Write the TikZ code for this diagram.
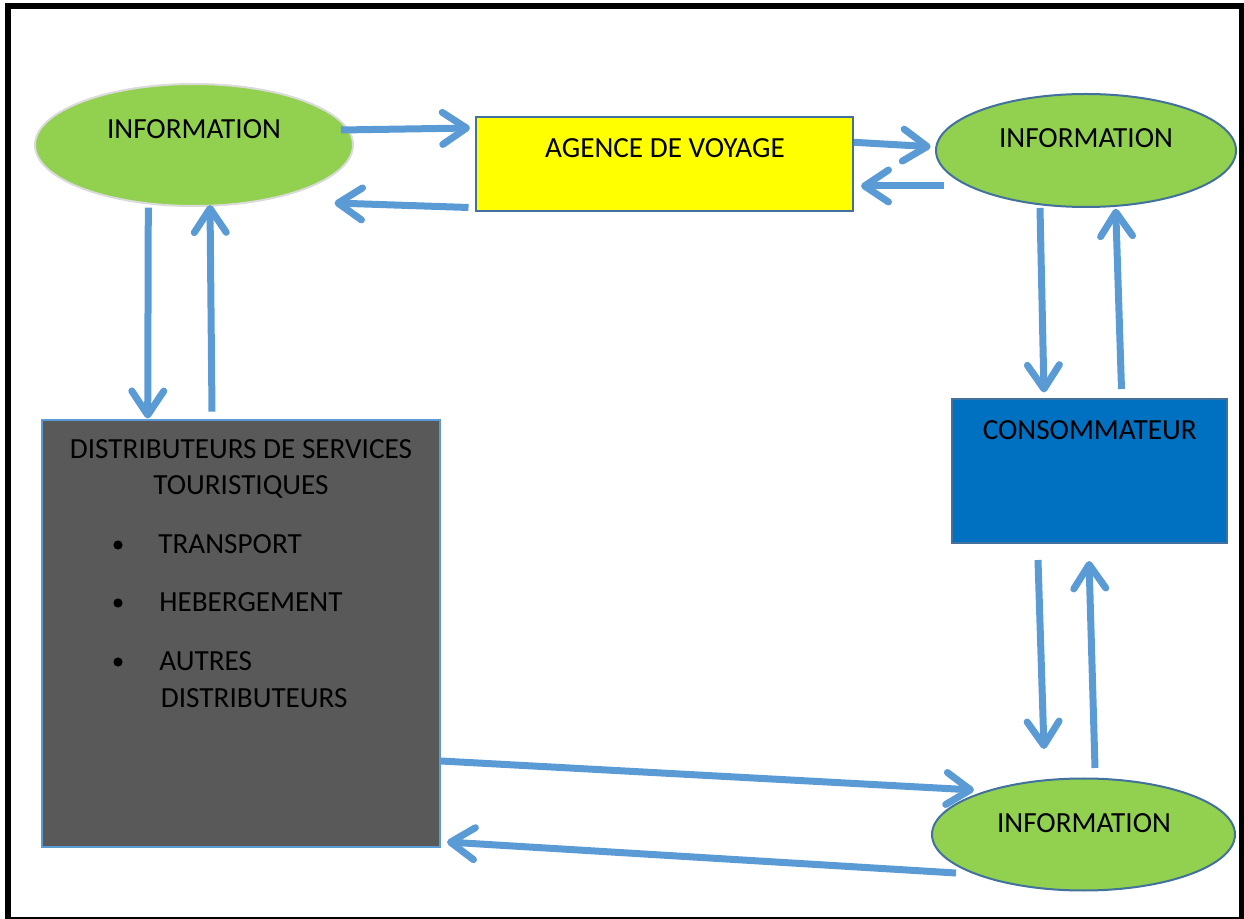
\documentclass[tikz,border=0pt]{standalone}
\usepackage{fontspec}
\setmainfont{Carlito}
\usetikzlibrary{shapes.geometric,arrows.meta,calc}

\definecolor{infogreen}{HTML}{92D050}
\definecolor{edgeblue}{HTML}{41719C}
\definecolor{flowblue}{HTML}{5B9BD5}
\definecolor{agenceyellow}{HTML}{FFFF00}
\definecolor{consoblue}{HTML}{0070C0}
\definecolor{distribgray}{HTML}{595959}
\definecolor{palegray}{HTML}{DADADA}

\begin{document}
\begin{tikzpicture}[x=0.5pt,y=-0.5pt,
  info/.style={ellipse,fill=infogreen,draw=edgeblue,line width=1pt,inner sep=0pt},
  panel/.style={rectangle,draw=edgeblue,line width=1pt,inner sep=0pt},
  lbl/.style={font=\fontsize{14.6}{17.5}\selectfont,inner sep=0pt,anchor=base},
  flow/.style={draw=flowblue,line width=3.5pt,-{Straight Barb[length=12pt,width=16pt,round]}}]
\useasboundingbox (0,0) rectangle (1244,919);
\clip (0,0) rectangle (1244,919);
\draw[line width=3pt] (8,6) rectangle (1242,920);
% shapes
\node[info,draw=palegray,minimum width=159pt,minimum height=61pt] (infoA) at (194,145) {};
\node[info,minimum width=150pt,minimum height=56.5pt] (infoB) at (1086,150.5) {};
\node[info,minimum width=151.5pt,minimum height=56pt] (infoC) at (1083.5,834.5) {};
\node[panel,fill=agenceyellow,minimum width=188.5pt,minimum height=47pt] (agence) at (664.5,164) {};
\node[panel,fill=consoblue,minimum width=137.5pt,minimum height=71.75pt] (conso) at (1089.5,471.25) {};
\node[panel,draw=flowblue,fill=distribgray,minimum width=199pt,minimum height=213.5pt] (distrib) at (241,633.5) {};
% texts
\node[lbl] (infoAtxt) at (194,139) {INFORMATION};
\node[lbl] (infoBtxt) at (1086,147.7) {INFORMATION};
\node[lbl] (infoCtxt) at (1084,833) {INFORMATION};
\node[lbl] (agencetxt) at (665,158) {AGENCE DE VOYAGE};
\node[lbl] (consotxt) at (1089.7,439.3) {CONSOMMATEUR};
\node[lbl] (distribA) at (241,459) {DISTRIBUTEURS DE SERVICES};
\node[lbl] (distribB) at (241,495) {TOURISTIQUES};
\node[lbl,anchor=base west] (itemA) at (158,554) {TRANSPORT};
\node[lbl,anchor=base west] (itemB) at (159,612) {HEBERGEMENT};
\node[lbl,anchor=base west] (itemC) at (159,671) {AUTRES};
\node[lbl,anchor=base west] (itemD) at (160.5,707.7) {DISTRIBUTEURS};
\fill (118,545) circle (2.3pt);
\fill (118,603) circle (2.3pt);
\fill (118,662) circle (2.3pt);
% arrows
\draw[flow] ($(infoA.east)+(-13,-15)$) -- ($(agence.north west)+(-5,12)$);
\draw[flow] ($(agence.south west)+(-6.5,-4.5)$) -- ($(infoA.east)+(-19.5,58)$);
\draw[flow] ($(agence.north east)+(0,26.3)$) -- ($(infoB.west)+(-4.3,-3.8)$);
\draw[flow] ($(infoB.west)+(9,35.5)$) -- ($(agence.south east)+(7,-26)$);
\draw[flow] ($(infoB.south)+(-46,0)$) -- ($(conso.north)+(-45.5,-6)$);
\draw[flow] ($(conso.north)+(32,-9.5)$) -- ($(infoB.south)+(29.7,0.7)$);
\draw[flow] ($(conso.south)+(-51.5,16)$) -- ($(infoC.north)+(-39.5,-28.5)$);
\draw[flow] ($(infoC.north)+(11.5,-9.5)$) -- ($(conso.south)+(-0.5,17)$);
\draw[flow] ($(distrib.east)+(0,127.5)$) -- ($(infoC.west)+(43,-44.5)$);
\draw[flow] ($(infoC.west)+(25,38.5)$) -- ($(distrib.south east)+(6,-6)$);
\draw[flow] ($(infoA.south)+(-45.7,0.7)$) -- ($(distrib.north)+(-93.3,-0.5)$);
\draw[flow] ($(distrib.north)+(-29,-7.3)$) -- ($(infoA.south)+(16,-2)$);
\end{tikzpicture}
\end{document}
